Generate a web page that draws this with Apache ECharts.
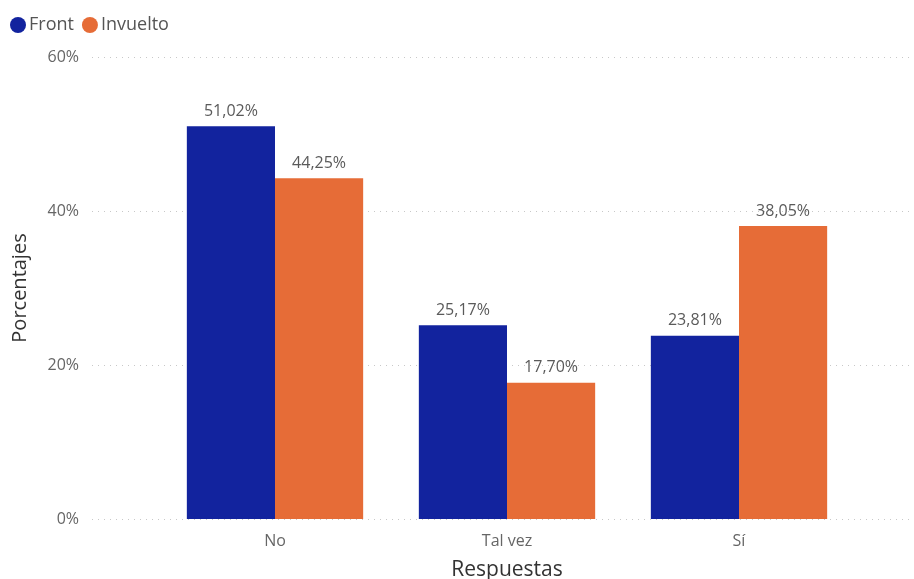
<!DOCTYPE html>
<html>
<head>
<meta charset="utf-8">
<script src="https://cdn.jsdelivr.net/npm/echarts@6/dist/echarts.min.js"></script>
<style>
  html, body { margin: 0; padding: 0; background: #ffffff; }
  #chart { width: 914px; height: 579px; }
</style>
</head>
<body>
<div id="chart"></div>
<script>
// Respuestas por grupo (porcentajes)
const categories = ['No', 'Tal vez', 'Sí'];
const frontValues = [51.02, 25.17, 23.81];
const invueltoValues = [44.25, 17.70, 38.05];
const seriesNames = ['Front', 'Invuelto'];
const yTicks = [0, 20, 40, 60];

const FONT = '"Open Sans", "Noto Sans", sans-serif';
const fmtPct = v => v.toFixed(2).replace('.', ',') + '%';

const chart = echarts.init(document.getElementById('chart'));

const labelStyle = {
  show: true,
  position: 'top',
  distance: 7,
  color: '#5a5a5a',
  fontFamily: FONT,
  fontSize: 16,
  formatter: p => fmtPct(p.value)
};

chart.setOption({
  animation: false,
  textStyle: { fontFamily: FONT },
  color: ['#12239E', '#E66C37'],
  legend: {
    data: seriesNames,
    left: 5,
    top: 11,
    icon: 'circle',
    itemWidth: 16,
    itemHeight: 16,
    itemGap: 8,
    textStyle: { fontFamily: FONT, fontSize: 18, color: '#555', padding: [0, 0, 0, -2] }
  },
  grid: [
    // full-width grid carrying the value axis and dotted gridlines
    { left: 92, right: 0, top: 57, bottom: 60, outerBoundsMode: 'none', containLabel: false },
    // inner grid holding the bars
    { left: 159, right: 59, top: 57, bottom: 60, outerBoundsMode: 'none', containLabel: false }
  ],
  xAxis: [
    { gridIndex: 0, type: 'category', data: categories, show: false },
    {
      gridIndex: 1,
      type: 'category',
      data: categories,
      axisLine: { show: false },
      axisTick: { show: false },
      axisLabel: { color: '#666', fontFamily: FONT, fontSize: 16, margin: 14 },
      name: 'Respuestas',
      nameLocation: 'middle',
      nameGap: 41,
      nameTextStyle: { color: '#333', fontFamily: FONT, fontSize: 21 }
    }
  ],
  yAxis: [
    {
      gridIndex: 0,
      type: 'value',
      min: yTicks[0],
      max: yTicks[yTicks.length - 1],
      interval: 20,
      axisLine: { show: false },
      axisTick: { show: false },
      axisLabel: { color: '#666', fontFamily: FONT, fontSize: 16, margin: 13, formatter: v => v + '%' },
      splitLine: { show: true, lineStyle: { color: '#c8c8c8', type: [1, 5], width: 1 } },
      name: 'Porcentajes',
      nameLocation: 'middle',
      nameGap: 62,
      nameRotate: 90,
      nameTextStyle: { color: '#333', fontFamily: FONT, fontSize: 20 }
    },
    {
      gridIndex: 1,
      type: 'value',
      min: yTicks[0],
      max: yTicks[yTicks.length - 1],
      interval: 20,
      show: false,
      splitLine: { show: false }
    }
  ],
  series: [
    {
      name: seriesNames[0],
      type: 'bar',
      xAxisIndex: 1,
      yAxisIndex: 1,
      data: frontValues,
      barGap: '0%',
      barCategoryGap: '24%',
      label: labelStyle
    },
    {
      name: seriesNames[1],
      type: 'bar',
      xAxisIndex: 1,
      yAxisIndex: 1,
      data: invueltoValues,
      barGap: '0%',
      barCategoryGap: '24%',
      label: labelStyle
    }
  ]
});
</script>
</body>
</html>
